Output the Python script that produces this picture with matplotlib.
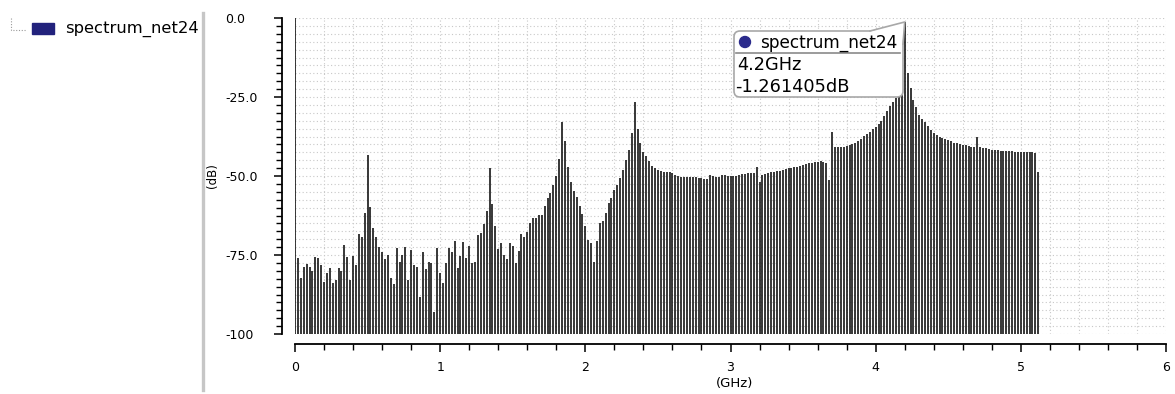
import numpy as np
import matplotlib
matplotlib.use('Agg')
import matplotlib.pyplot as plt
from matplotlib.ticker import MultipleLocator
from matplotlib.patches import Rectangle, FancyBboxPatch, Polygon, Circle

# spectrum of net24, one bin every 20 MHz from 0 to 5.12 GHz (dB)
level_0g = [0.0, -76.1, -82.4, -78.7, -77.9, -78.7, -80.0, -75.5, -76.1, -78.2,
            -83.4, -80.8, -79.2, -84.0, -82.9, -79.0, -80.0, -71.8, -75.5, -82.9,
            -75.3, -78.2, -68.4, -69.2, -61.8, -43.4, -59.7, -66.6, -69.2, -72.4,
            -74.0, -76.4, -75.0, -82.4, -84.2, -72.9, -77.1, -75.0, -72.6, -82.9,
            -73.4, -78.2, -78.7, -88.4, -74.0, -79.5, -77.1, -77.4, -92.9, -72.9]
level_1g = [-80.8, -84.0, -77.4, -72.9, -74.0, -70.5, -79.2, -75.3, -70.8, -76.1,
            -72.2, -77.4, -77.1, -68.7, -67.9, -65.2, -61.1, -47.4, -59.0, -65.8,
            -73.2, -71.3, -75.1, -76.2, -71.3, -72.2, -77.4, -73.6, -68.4, -69.2,
            -67.6, -65.0, -63.2, -63.2, -62.3, -62.3, -59.5, -57.1, -55.5, -52.8,
            -50.0, -44.7, -32.8, -38.8, -47.0, -51.8, -54.6, -56.5, -59.5, -62.0]
level_2g = [-65.8, -70.3, -71.3, -77.1, -70.5, -65.0, -64.1, -61.6, -58.4, -57.1,
            -54.4, -52.8, -50.7, -48.1, -44.9, -41.8, -36.5, -26.5, -35.2, -39.7,
            -42.3, -43.7, -45.2, -46.8, -47.6, -48.1, -48.3, -48.6, -48.7, -48.8,
            -49.2, -49.7, -50.0, -50.2, -50.3, -50.4, -50.2, -50.4, -50.4, -50.5,
            -50.7, -50.8, -51.0, -49.7, -50.0, -50.2, -50.3, -49.8, -49.8, -49.9]
level_3g = [-49.9, -49.9, -50.0, -49.7, -49.5, -49.3, -49.1, -49.1, -49.1, -47.3,
            -51.8, -49.7, -49.5, -49.2, -48.6, -48.6, -48.4, -48.3, -48.1, -47.9,
            -47.6, -47.4, -47.3, -47.0, -46.7, -46.5, -46.3, -46.0, -45.8, -45.5,
            -45.5, -45.4, -45.5, -46.0, -51.3, -36.0, -40.7, -40.8, -40.9, -40.8,
            -40.6, -40.2, -39.8, -39.4, -38.8, -38.2, -37.4, -36.8, -36.2, -35.2]
level_4g = [-34.4, -33.5, -32.5, -30.9, -29.5, -28.0, -26.5, -25.2, -22.5, -15.0,
            -1.261405, -17.5, -22.2, -25.9, -28.1, -30.7, -32.0, -33.0, -34.2, -35.4,
            -36.3, -37.0, -37.6, -38.0, -38.4, -38.6, -38.8, -39.4, -39.7, -39.9,
            -40.1, -40.3, -40.5, -40.7, -40.9, -37.6, -40.9, -41.2, -41.2, -41.5,
            -41.7, -41.8, -41.9, -42.0, -42.1, -42.1, -42.2, -42.2, -42.3, -42.3,
            -42.3, -42.3, -42.3, -42.4, -42.5, -42.6, -48.6]

bin_ghz = 0.02
ytick_vals = [0, -25, -50, -75, -100]
ytick_text = ['0.0', '-25.0', '-50.0', '-75.0', '-100']
trace_name = 'spectrum_net24'
marker_freq = 4.2

level = np.array(level_0g + level_1g + level_2g + level_3g + level_4g)
freq = np.arange(len(level)) * bin_ghz

W, H = 1175, 394
fig = plt.figure(figsize=(W / 100, H / 100), dpi=100)
ax = fig.add_axes([295 / W, 60 / H, 871 / W, 316 / H])

ax.vlines(freq, -100, level, colors='#151515', lw=1.2, zorder=3)

ax.set_xlim(0, 6)
ax.set_ylim(-100, 0)
ax.spines['top'].set_visible(False)
ax.spines['right'].set_visible(False)
ax.spines['left'].set_position(('outward', 9))
ax.spines['bottom'].set_position(('outward', 7.5))
for s in ['left', 'bottom']:
    ax.spines[s].set_linewidth(1.3)

ax.xaxis.set_major_locator(MultipleLocator(1))
ax.xaxis.set_minor_locator(MultipleLocator(0.2))
ax.set_yticks(ytick_vals)
ax.set_yticklabels(ytick_text, ha='left')
ax.yaxis.set_minor_locator(MultipleLocator(2.5))
ax.tick_params(which='major', direction='out', length=6, width=1.1, labelsize=9)
ax.tick_params(which='minor', direction='out', length=4, width=1.0)
ax.tick_params(axis='x', pad=6)
ax.tick_params(axis='y', pad=35)

ax.grid(which='both', linestyle=(0, (1, 2.2)), color='#c8c8c8', lw=0.8)
ax.set_axisbelow(True)

fig.text(212 / W, 1 - 176 / H, '(dB)', rotation=90, ha='center', va='center', fontsize=8.5)
fig.text(735 / W, 1 - 383 / H, '(GHz)', ha='center', va='center', fontsize=9.5)

# overlay in pixel units for the legend panel and marker box
ov = fig.add_axes([0, 0, 1, 1], zorder=5)
ov.set_xlim(0, W)
ov.set_ylim(H, 0)
ov.axis('off')
ov.patch.set_visible(False)

ov.plot([11, 11, 26], [18, 30, 30], ls=(0, (1, 1.5)), color='#9a9a9a', lw=0.8)
ov.add_patch(Rectangle((32, 23), 22, 11, fc='#22227c', ec='#22227c'))
ov.text(65, 29, trace_name, fontsize=11.8, va='center', ha='left')
ov.plot([203, 203], [13, 390], color='#c6c6c6', lw=2.4)

# marker box pointing at the 4.2 GHz tone
i_pk = int(round(marker_freq / bin_ghz))
px, py = ax.transData.transform((freq[i_pk], level[i_pk]))
tip = (px, H - py)
ov.add_patch(FancyBboxPatch((734, 31), 169, 66, boxstyle='round,pad=0,rounding_size=6',
                            fc='white', ec='#a8a8a8', lw=1.2))
ov.add_patch(Polygon([(870, 31.6), tip, (902.4, 44)], closed=True, fc='white', ec='none'))
ov.plot([870, tip[0], 903], [31, tip[1], 44], color='#a8a8a8', lw=1.2)
ov.add_patch(Circle((745, 42), 5.5, fc='#2b2b8c', ec='#2b2b8c'))
ov.text(760, 43, trace_name, fontsize=12.2, va='center', ha='left')
ov.plot([736, 900], [53, 53], color='#8a8a8a', lw=1.2)
ov.text(737, 65, f'{freq[i_pk]:.1f}GHz', fontsize=12.8, va='center', ha='left')
ov.text(735, 87, f'{level[i_pk]:.6f}dB', fontsize=12.8, va='center', ha='left')

fig.savefig('out.png', dpi=100)
